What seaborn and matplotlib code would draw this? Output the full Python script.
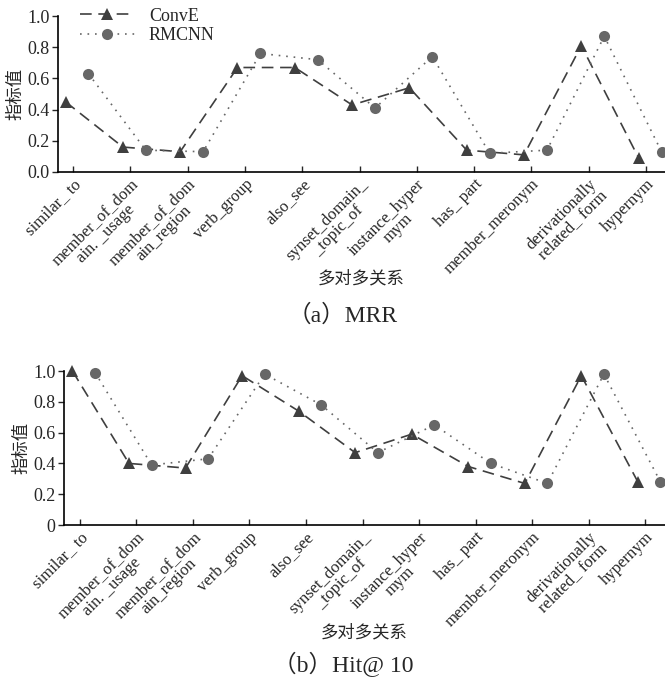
import matplotlib
matplotlib.use("Agg")
import matplotlib.pyplot as plt
import seaborn as sns
import numpy as np
import pandas as pd

relations = ["similar_ to", "member_of_dom\nain. _usage", "member_of_dom\nain_region",
             "verb_group", "also_see", "synset_domain_\n_topic_of", "instance_hyper\nmym",
             "has_ part", "member_meronym", "derivationally\nrelated_ form", "hypernym"]

mrr_conve = [0.45, 0.16, 0.13, 0.67, 0.67, 0.43, 0.54, 0.14, 0.11, 0.81, 0.09]
mrr_rmcnn = [0.63, 0.14, 0.13, 0.76, 0.72, 0.41, 0.74, 0.12, 0.14, 0.87, 0.13]

hit_conve = [1.00, 0.40, 0.37, 0.97, 0.74, 0.47, 0.59, 0.38, 0.27, 0.97, 0.28]
hit_rmcnn = [0.99, 0.39, 0.43, 0.98, 0.78, 0.47, 0.65, 0.40, 0.27, 0.98, 0.28]

sns.set_style("ticks")
plt.rcParams['font.family'] = ['Liberation Serif', 'Noto Sans CJK SC', 'DejaVu Sans']
plt.rcParams['axes.unicode_minus'] = False

fig = plt.figure(figsize=(6.65, 6.88), dpi=100)
ax1 = fig.add_axes([0.0872, 0.750, 0.9128, 0.2267])
ax2 = fig.add_axes([0.0962, 0.2369, 0.9038, 0.2238])

conve_color = "#3f3f3f"
rmcnn_color = "#676767"
idx = np.arange(len(relations))

def draw(ax, conve, rmcnn, ylabels, xlim, xlab_y):
    df = pd.DataFrame({"pos": idx, "ConvE": conve, "RMCNN": rmcnn})
    sns.lineplot(x=df["pos"] - 0.13, y=df["ConvE"], ax=ax, color=conve_color,
                 marker="^", markersize=8, markeredgewidth=0, linewidth=1.2,
                 linestyle=(0, (7, 4)), label="ConvE", sort=False, clip_on=False)
    sns.lineplot(x=df["pos"] + 0.27, y=df["RMCNN"], ax=ax, color=rmcnn_color,
                 marker="o", markersize=8, markeredgewidth=0, linewidth=1.2,
                 linestyle=(0, (1, 3.5)), label="RMCNN", sort=False, clip_on=False)
    ax.set_xlim(*xlim)
    ax.set_ylim(0, 1.0)
    ax.set_yticks([0, 0.2, 0.4, 0.6, 0.8, 1.0])
    ax.set_yticklabels(ylabels, fontsize=13)
    ax.set_xticks(idx)
    ax.set_xticklabels(relations, rotation=45, ha="right", va="top",
                       rotation_mode="anchor", multialignment="center", fontsize=12,
                       linespacing=0.95)
    ax.tick_params(axis="x", direction="in", length=4, width=1, pad=3)
    ax.tick_params(axis="y", direction="out", length=4, width=1, pad=2)
    for s in ["top", "right"]:
        ax.spines[s].set_visible(False)
    for s in ["left", "bottom"]:
        ax.spines[s].set_color("black")
        ax.spines[s].set_linewidth(1.2)
    ax.set_xlabel("多对多关系", fontsize=12.5, labelpad=0)
    ax.xaxis.set_label_coords(0.5, xlab_y)
    ax.xaxis.label.set_va("center")
    ax.set_ylabel("指标值", fontsize=12.5, labelpad=2)
    ax.grid(False)

draw(ax1, mrr_conve, mrr_rmcnn, ["0.0", "0.2", "0.4", "0.6", "0.8", "1.0"], (-0.262, 10.33), -0.69)
draw(ax2, hit_conve, hit_rmcnn, ["0", "0.2", "0.4", "0.6", "0.8", "1.0"], (-0.28, 10.35), -0.70)

ax1.legend(loc="upper left", bbox_to_anchor=(0.025, 1.1), frameon=False, fontsize=13,
           handlelength=3, handletextpad=0.8, borderaxespad=0, labelspacing=0.15)
ax2.get_legend().remove()

fig.text(343 / 665, 1 - 316 / 688, "（a）MRR", ha="center", va="center", fontsize=17)
fig.text(343 / 665, 1 - 664 / 688, "（b）Hit@ 10", ha="center", va="center", fontsize=17)

fig.savefig("out.png", dpi=100)
